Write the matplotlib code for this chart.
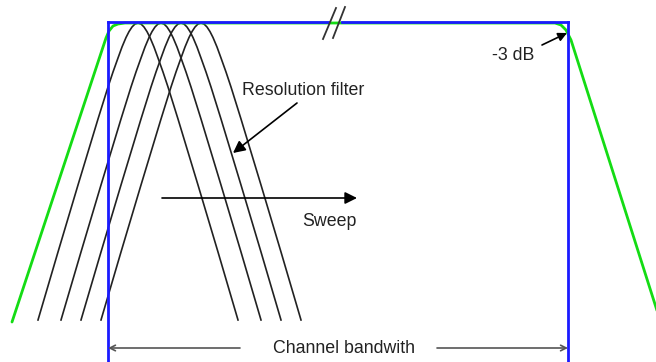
import numpy as np
import matplotlib.pyplot as plt

plt.rcParams['font.family'] = ['Liberation Sans', 'DejaVu Sans']

# the sketch is laid out in the pixel units of the original drawing (y points down)
W, H = 656, 362

# resolution filters: peak positions and the shape of one filter
filter_centers = [138, 161, 181, 201]
filter_top = 23
filter_offsets = [-100, -80, -60, -40, -30, -25, -20, -16, -12, -9, -6, -3, 0,
                  3, 6, 9, 12, 16, 20, 25, 30, 40, 60, 80, 100]
filter_drops = [297, 229, 162, 96, 64, 49, 35, 24, 14.5, 8.6, 4, 1, 0,
                1, 4, 8.6, 14.5, 24, 35, 49, 64, 96, 162, 229, 297]

# channel (blue box)
channel_left = 108
channel_right = 568
channel_top = 22
break_gap = (328, 342)
slash_x = [(323, 336), (333, 345)]
slash_y = [(39, 8), (38, 7)]

# channel filter response (green)
green_x = [12, 106, 109, 113, 118, 125, 555, 561, 566, 571, 660]
green_y = [322, 38, 31, 26, 24, 23, 23, 25, 30, 40, 320]

# labels: text, x, baseline y
labels = [("Resolution filter", 242, 95),
          ("Sweep", 302, 226),
          ("-3 dB", 492, 60),
          ("Channel bandwith", 273, 353)]

# filled arrows: (x0, y0) -> (x1, y1), head size
arrows = [((297, 103), (233, 153), 18),
          ((162, 198), (357, 198), 18),
          ((542, 45), (567, 33), 13)]

bw_y = 348
bw_arrow_starts = [240, 437]

fig = plt.figure(figsize=(W / 100, H / 100), dpi=100)
ax = fig.add_axes([0, 0, 1, 1])
ax.set_xlim(0, W)
ax.set_ylim(H, 0)
ax.axis('off')

offs = np.array(filter_offsets)
drops = np.array(filter_drops)
for c in filter_centers:
    ax.plot(c + offs, filter_top + drops, color='#222222', lw=1.2, zorder=2)

ax.plot(green_x, green_y, color='#14dc14', lw=2, zorder=3, solid_capstyle='round')

blue = '#1a1aff'
ax.plot([channel_left, channel_left], [H + 5, channel_top], color=blue, lw=2, zorder=4)
ax.plot([channel_right, channel_right], [H + 5, channel_top], color=blue, lw=2, zorder=4)
ax.plot([channel_left, break_gap[0]], [channel_top, channel_top], color=blue, lw=2, zorder=4)
ax.plot([break_gap[1], channel_right], [channel_top, channel_top], color=blue, lw=2, zorder=4)
for sx, sy in zip(slash_x, slash_y):
    ax.plot(sx, sy, color='#333333', lw=1.3, zorder=5)

for text, x, y in labels:
    ax.text(x, y, text, fontsize=12.8, ha='left', va='baseline', color='#222222', zorder=6)

for (x0, y0), (x1, y1), hs in arrows:
    ax.annotate('', xy=(x1, y1), xytext=(x0, y0),
                arrowprops=dict(arrowstyle='-|>', color='black', lw=1.2,
                                mutation_scale=hs, shrinkA=0, shrinkB=0), zorder=6)

for x0, x1 in zip(bw_arrow_starts, [channel_left, channel_right]):
    ax.annotate('', xy=(x1, bw_y), xytext=(x0, bw_y),
                arrowprops=dict(arrowstyle='->', color='#555555', lw=1.2,
                                mutation_scale=10, shrinkA=0, shrinkB=0), zorder=6)

fig.savefig('out.png', dpi=100, facecolor='white')
